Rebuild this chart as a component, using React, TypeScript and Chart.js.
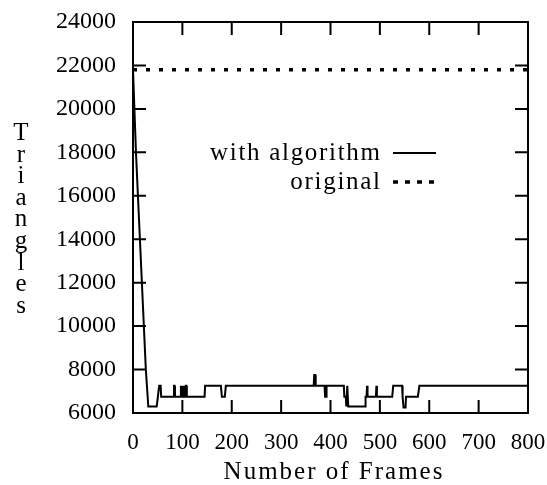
import React, { useEffect, useRef } from 'react';
import { Chart, registerables } from 'chart.js';

Chart.register(...registerables);

// "with algorithm" series: frame numbers and triangle counts
const frames = [
  0, 6, 14, 26, 31, 48, 53, 56, 57, 82,
  83, 84, 85, 96, 97, 98, 99, 100, 101, 102,
  103, 104, 105, 106, 107, 108, 109, 145, 146, 178,
  180, 186, 188, 366, 367, 369, 370, 388, 389, 391,
  392, 427, 428, 431, 432, 434, 436, 470, 471, 473,
  474, 475, 492, 493, 494, 525, 527, 545, 546, 548,
  552, 553, 577, 580, 800,
];
const withAlgorithm = [
  21800, 18000, 14000, 8000, 6300, 6300, 7250, 7250, 6750, 6750,
  7250, 7250, 6750, 6750, 7250, 6750, 7250, 6750, 7250, 6750,
  7250, 6750, 7250, 6750, 7250, 7250, 6750, 6750, 7250, 7250,
  6750, 6750, 7250, 7250, 7750, 7750, 7250, 7250, 6750, 6750,
  7250, 7250, 6750, 6750, 6300, 7250, 6300, 6300, 6750, 6750,
  7250, 6750, 6750, 7250, 6750, 6750, 7250, 7250, 6750, 6250,
  6250, 6750, 6750, 7250, 7250,
];

// "original" series
const originalFrames = [0, 800];
const original = [21800, 21800];

const xTicks = [0, 100, 200, 300, 400, 500, 600, 700, 800];
const yTicks = [6000, 8000, 10000, 12000, 14000, 16000, 18000, 20000, 22000, 24000];

const seriesLabels = ['with algorithm', 'original'];
const xTitle = 'Number of Frames';
const yTitle = 'Triangles';

const SERIF = '"Liberation Serif", "Times New Roman", serif';

const zeroPad = (s: any) => {
  s.paddingLeft = 0;
  s.paddingRight = 0;
  s.paddingTop = 0;
  s.paddingBottom = 0;
};

const decorPlugin = {
  id: 'decor',
  afterDraw(chart: any) {
    const { ctx, chartArea, scales } = chart;
    const { left, top, right, bottom } = chartArea;
    const xs = scales.x;
    const ys = scales.y;
    ctx.save();
    ctx.strokeStyle = '#000';
    ctx.fillStyle = '#000';
    ctx.lineWidth = 2;
    ctx.setLineDash([]);
    ctx.strokeRect(left, top, right - left, bottom - top);
    const tl = 13;
    ctx.beginPath();
    for (const v of yTicks) {
      const py = ys.getPixelForValue(v);
      ctx.moveTo(left, py);
      ctx.lineTo(left + tl, py);
      ctx.moveTo(right, py);
      ctx.lineTo(right - tl, py);
    }
    for (const v of xTicks) {
      const px = xs.getPixelForValue(v);
      ctx.moveTo(px, bottom);
      ctx.lineTo(px, bottom - tl);
      ctx.moveTo(px, top);
      ctx.lineTo(px, top + tl);
    }
    ctx.stroke();

    // legend
    const ls = 1.7;
    ctx.font = '25px ' + SERIF;
    (ctx as any).letterSpacing = ls + 'px';
    ctx.textAlign = 'right';
    ctx.textBaseline = 'middle';
    const legendY = [153, 182];
    ctx.fillText(seriesLabels[0], 380 + ls, legendY[0]);
    ctx.fillText(seriesLabels[1], 380 + ls, legendY[1]);
    ctx.lineWidth = 2;
    ctx.beginPath();
    ctx.moveTo(393, legendY[0]);
    ctx.lineTo(436, legendY[0]);
    ctx.stroke();
    ctx.lineWidth = 3.5;
    ctx.setLineDash([5, 7]);
    ctx.beginPath();
    ctx.moveTo(393, legendY[1]);
    ctx.lineTo(436, legendY[1]);
    ctx.stroke();
    ctx.setLineDash([]);

    // x title
    (ctx as any).letterSpacing = '2px';
    ctx.textAlign = 'center';
    ctx.textBaseline = 'alphabetic';
    ctx.fillText(xTitle, 334, 479);

    // y title, stacked letters
    (ctx as any).letterSpacing = '0px';
    const letters = yTitle.split('');
    letters.forEach((ch: string, i: number) => {
      ctx.fillText(ch, 21, 140 + i * 21.6);
    });
    ctx.restore();
  },
};

export default function App() {
  const canvasRef = useRef<HTMLCanvasElement | null>(null);

  useEffect(() => {
    const canvas = canvasRef.current;
    if (!canvas) return;
    const chart = new Chart(canvas, {
      type: 'line',
      data: {
        datasets: [
          {
            label: seriesLabels[0],
            data: frames.map((f, i) => ({ x: f, y: withAlgorithm[i] })),
            borderColor: '#000',
            borderWidth: 2,
            pointRadius: 0,
            tension: 0,
            fill: false,
          },
          {
            label: seriesLabels[1],
            data: originalFrames.map((f, i) => ({ x: f, y: original[i] })),
            borderColor: '#000',
            borderWidth: 3.5,
            borderDash: [4, 9],
            pointRadius: 0,
            tension: 0,
            fill: false,
          },
        ],
      },
      options: {
        animation: false,
        responsive: false,
        maintainAspectRatio: false,
        layout: { padding: { left: 0, top: 22, right: 19, bottom: 0 } },
        plugins: {
          legend: { display: false },
          tooltip: { enabled: false },
        },
        scales: {
          x: {
            type: 'linear',
            min: 0,
            max: 800,
            afterFit: (s: any) => {
              s.height = 72;
              zeroPad(s);
            },
            afterBuildTicks: (s: any) => {
              s.ticks = xTicks.map((v) => ({ value: v }));
            },
            grid: { display: false, drawTicks: false },
            border: { display: false },
            ticks: {
              color: '#000',
              font: { family: SERIF, size: 23 },
              padding: 16,
              maxRotation: 0,
              autoSkip: false,
            },
          },
          y: {
            type: 'linear',
            min: 6000,
            max: 24000,
            afterFit: (s: any) => {
              s.width = 133;
              zeroPad(s);
            },
            afterBuildTicks: (s: any) => {
              s.ticks = yTicks.map((v) => ({ value: v }));
            },
            grid: { display: false, drawTicks: false },
            border: { display: false },
            ticks: {
              color: '#000',
              font: { family: SERIF, size: 24 },
              padding: 17,
              autoSkip: false,
              callback: (v: any) => String(v),
            },
          },
        },
      },
      plugins: [decorPlugin],
    });
    return () => chart.destroy();
  }, []);

  return (
    <div style={{ position: 'fixed', left: 0, top: 0, width: 547, height: 485, background: '#fff' }}>
      <canvas ref={canvasRef} width={547} height={485} style={{ display: 'block' }} />
    </div>
  );
}
